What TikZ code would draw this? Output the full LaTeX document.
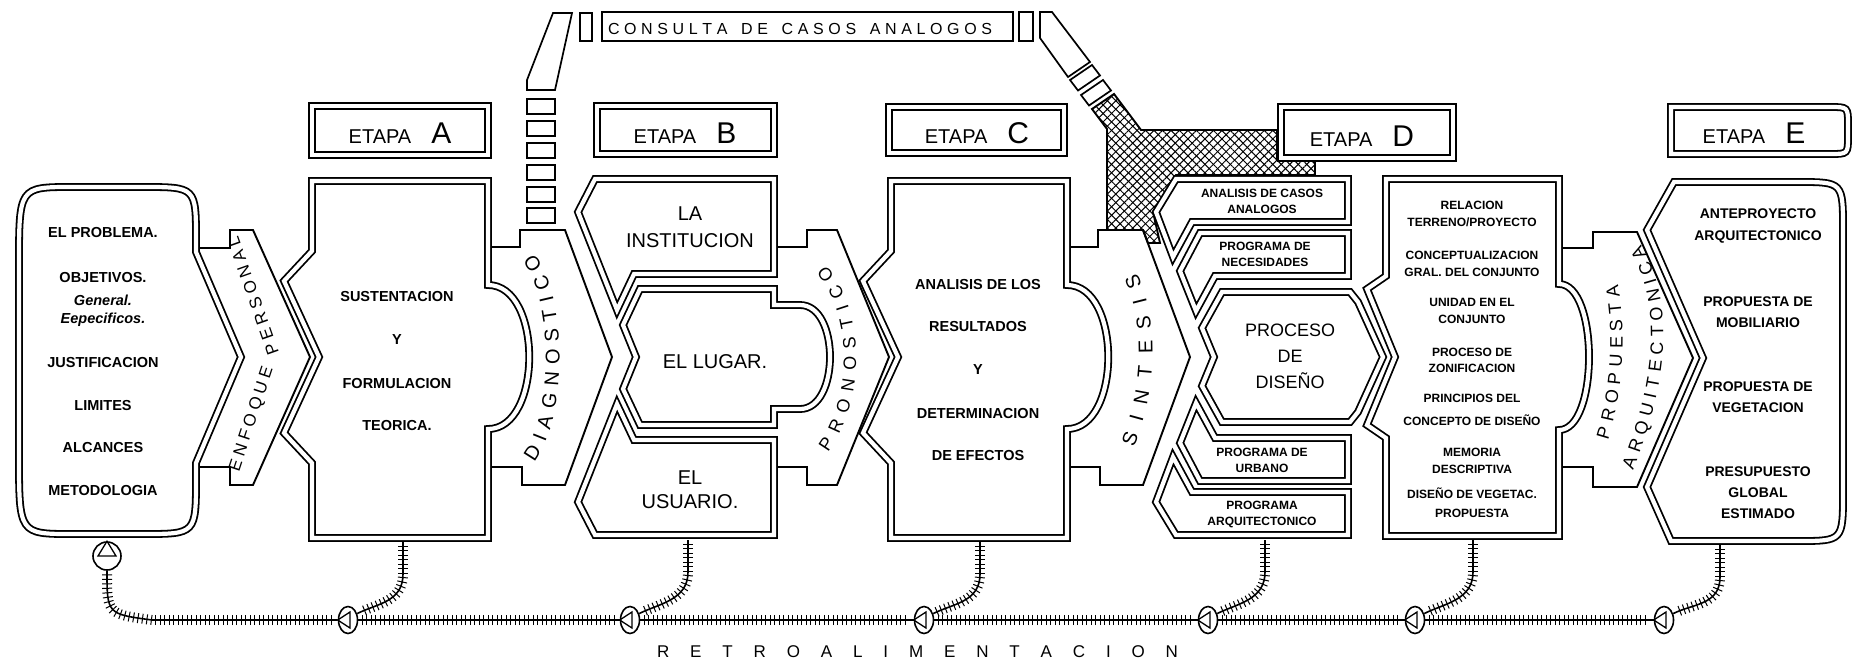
\documentclass[tikz,border=0pt]{standalone}
\usepackage{fontspec}
\setmainfont{Liberation Sans}
\usetikzlibrary{decorations.markings}
\usetikzlibrary{decorations.text}
\usetikzlibrary{patterns.meta}
\usetikzlibrary{shapes.geometric}

\tikzset{
dbl/.style={double, line width=1.8pt, double distance=4.2pt},
band/.style={line width=1.9pt},
sq/.style={line width=1.7pt},
lbl/.style={inner sep=0pt, align=center, font=\fontsize{#1}{#1}\selectfont},
lbl/.default=15,
blbl/.style={lbl=#1, font=\fontsize{#1}{#1}\selectfont\bfseries},
blbl/.default=15,
etapa/.style={inner sep=0pt, anchor=base, font=\fontsize{20}{20}\selectfont},
bandtxt/.style 2 args={decorate, decoration={text along path,
  text={|\fontsize{#1}{#1}\selectfont|#2}, text align={fit to path}}},
rail/.style={line width=1.6pt, postaction={decorate, decoration={markings,
  mark=between positions 4pt and -4pt step 4.5pt with {\draw[line width=1pt] (0pt,-5pt) -- (0pt,5pt);}}}},
fbc/.style={draw, ellipse, line width=1.6pt, minimum width=19pt, minimum height=27pt, inner sep=0pt, fill=white}
}

\begin{document}
\begin{tikzpicture}[x=1pt, y=-1pt]
\useasboundingbox (0,0) rectangle (1862,665);

% consulta de casos analogos
\draw[band, pattern={Lines[angle=45,distance=6pt,line width=1pt]},
  postaction={pattern={Lines[angle=-45,distance=6pt,line width=1pt]}}]
  (1092,109) -- (1114,94) -- (1141,130) -- (1277,130) -- (1277,160) -- (1315,160) -- (1315,175)
  -- (1176,175) -- (1153,212) -- (1160,243) -- (1148,243) -- (1143,230) -- (1107,230) -- (1107,129) -- cycle;
\draw[sq] (553,13) -- (572,13) -- (555,90) -- (527,90) -- (527,80) -- cycle;
\foreach \y in {99,121,143,165,187,208}
  \draw[sq] (527,\y) rectangle (555,\y+15);
\draw[sq] (580,13) rectangle (592,41);
\draw[sq] (602,12) rectangle (1013,41);
\draw[sq] (1019,12) rectangle (1033,41);
\draw[sq] (1040,12) -- (1052,12) -- (1090,62) -- (1068,77) -- (1040,38) -- cycle;
\foreach \x/\y in {1070/80,1081/95}
  \draw[sq] (\x,\y) -- ++(22,-15) -- ++(8,10.5) -- ++(-22,15) -- cycle;
\path[bandtxt={16}{CONSULTA DE CASOS ANALOGOS}] (608,34) -- (992,34);

% etapas
\draw[dbl] (312,106) rectangle (488,155);
\draw[dbl] (597,106) rectangle (774,154);
\draw[dbl] (889,107) rectangle (1064,153);
\draw[dbl] (1281,107) rectangle (1453,158);
\draw[dbl] (1671,107) -- (1830,107) .. controls (1848,107) .. (1848,125) -- (1848,136)
  .. controls (1848,154) .. (1830,154) -- (1671,154) -- cycle;
\node[etapa] (etA) at (400,143) {ETAPA\hspace{20pt}{\fontsize{30}{30}\selectfont A}};
\node[etapa] (etB) at (685,143) {ETAPA\hspace{20pt}{\fontsize{30}{30}\selectfont B}};
\node[etapa] (etC) at (977,143) {ETAPA\hspace{20pt}{\fontsize{30}{30}\selectfont C}};
\node[etapa] (etD) at (1362,146) {ETAPA\hspace{20pt}{\fontsize{30}{30}\selectfont D}};
\node[etapa] (etE) at (1754,143) {ETAPA\hspace{20pt}{\fontsize{30}{30}\selectfont E}};

% problema
\draw[dbl] (196,252) -- (196,240) .. controls (196,187) .. (143,187) -- (72,187)
  .. controls (19,187) .. (19,265) -- (19,455) .. controls (19,534) .. (72,534) -- (143,534)
  .. controls (196,534) .. (196,478) -- (196,463) -- (241,357) -- cycle;
\draw[band] (200,248) -- (230,248) -- (230,230) -- (253,230) -- (310,357) -- (253,485)
  -- (230,485) -- (230,467) -- (200,467);

% etapa A y C
\foreach \dx in {0,579}
  \draw[dbl, xshift=\dx pt] (312,181) -- (488,181) -- (488,285) .. controls (543,285) and (543,429) .. (488,429)
    -- (488,538) -- (312,538) -- (312,463) -- (284,433) -- (319,357) -- (284,281) -- (312,251) -- cycle;
\foreach \dx in {0,578}
  \draw[band, xshift=\dx pt] (492,247) -- (520,247) -- (520,230) -- (565,230) -- (612,357) -- (565,485)
    -- (522,485) -- (522,467) -- (492,467);

% etapa B
\draw[dbl] (595,179) -- (774,179) -- (774,274) -- (634,274) -- (617,310) -- (578,212) -- cycle;
\draw[dbl] (640,289) -- (774,289) -- (774,305) -- (800,305) .. controls (840,305) and (840,409) .. (800,409)
  -- (774,409) -- (774,425) -- (640,425) -- (623,389) -- (636,357) -- (623,325) -- cycle;
\draw[dbl] (595,535) -- (774,535) -- (774,440) -- (634,440) -- (617,404) -- (578,502) -- cycle;
\draw[band] (778,247) -- (807,247) -- (807,230) -- (837,230) -- (889,357) -- (837,485)
  -- (807,485) -- (807,467) -- (778,467);

% etapa D
\draw[dbl] (1176,179) -- (1348,179) -- (1348,222) -- (1192,222) -- (1173,257) -- (1156,212) -- cycle;
\draw[dbl] (1200,233) -- (1348,233) -- (1348,276) -- (1215,276) -- (1196,311) -- (1180,271) -- cycle;
\draw[dbl] (1222,292) -- (1350,292) -- (1358,302) -- (1383,357) -- (1358,412) -- (1350,422)
  -- (1222,422) -- (1202,386) -- (1214,357) -- (1202,328) -- cycle;
\draw[dbl] (1200,481) -- (1348,481) -- (1348,438) -- (1215,438) -- (1196,403) -- (1180,443) -- cycle;
\draw[dbl] (1176,535) -- (1348,535) -- (1348,492) -- (1192,492) -- (1173,457) -- (1156,502) -- cycle;
\draw[dbl] (1386,179) -- (1559,179) -- (1559,284) .. controls (1599,284) and (1599,430) .. (1559,430)
  -- (1559,536) -- (1386,536) -- (1386,438) -- (1367,425) -- (1395,357) -- (1367,289) -- (1386,276) -- cycle;
\draw[band] (1563,248) -- (1593,248) -- (1593,232) -- (1637,232) -- (1693,358) -- (1637,487)
  -- (1593,487) -- (1593,467) -- (1563,467);

% etapa E
\draw[dbl] (1674,182) -- (1798,182) .. controls (1843,182) .. (1843,230) -- (1843,492)
  .. controls (1843,541) .. (1798,541) -- (1671,541) -- (1647,487) -- (1703,358) -- (1647,230) -- cycle;

% textos
\foreach \t/\y [count=\i] in {EL PROBLEMA./233, OBJETIVOS./277, {\itshape General.}/300,
  {\itshape Eepecificos.}/320, JUSTIFICACION/362, LIMITES/405, ALCANCES/447, METODOLOGIA/490}
  \node[blbl=14.5] (prob\i) at (103,\y) {\t};
\foreach \t/\y [count=\i] in {SUSTENTACION/297, Y/340, FORMULACION/383, TEORICA./425}
  \node[blbl=14.5] (sus\i) at (397,\y) {\t};
\foreach \t/\y [count=\i] in {ANALISIS DE LOS/285, RESULTADOS/327, Y/370, DETERMINACION/413, DE EFECTOS/455}
  \node[blbl=14.5] (res\i) at (978,\y) {\t};
\node[lbl=20] (inst) at (690,227) {LA\\[7pt]INSTITUCION};
\node[lbl=20] (lugar) at (715,362) {EL LUGAR.};
\node[lbl=20] (usu) at (690,490) {EL\\[4pt]USUARIO.};
\node[blbl=12] (anal) at (1262,201) {ANALISIS DE CASOS\\[4pt]ANALOGOS};
\node[blbl=12] (nec) at (1265,254) {PROGRAMA DE\\[4pt]NECESIDADES};
\node[lbl=18] (proc) at (1290,356) {PROCESO\\[8pt]DE\\[8pt]DISEÑO};
\node[blbl=12] (urb) at (1262,460) {PROGRAMA DE\\[4pt]URBANO};
\node[blbl=12] (arq) at (1262,514) {PROGRAMA\\[4pt]ARQUITECTONICO};
\foreach \t/\y [count=\i] in {{RELACION\\[5pt]TERRENO/PROYECTO}/214, {CONCEPTUALIZACION\\[5pt]GRAL. DEL CONJUNTO}/264,
  {UNIDAD EN EL\\[5pt]CONJUNTO}/311, {PROCESO DE\\[4pt]ZONIFICACION}/360, {PRINCIPIOS DEL\\[11pt]CONCEPTO DE DISEÑO}/410,
  {MEMORIA\\[5pt]DESCRIPTIVA}/461, {DISEÑO DE VEGETAC.\\[7pt]PROPUESTA}/503}
  \node[blbl=12] (rel\i) at (1472,\y) {\t};
\foreach \t/\y [count=\i] in {{ANTEPROYECTO\\[8pt]ARQUITECTONICO}/226, {PROPUESTA DE\\[7pt]MOBILIARIO}/312,
  {PROPUESTA DE\\[7pt]VEGETACION}/397, {PRESUPUESTO\\[7pt]GLOBAL\\[7pt]ESTIMADO}/493}
  \node[blbl=14] (ant\i) at (1758,\y) {\t};

% textos de las flechas
\path[bandtxt={17}{ENFOQUE}] (239,472) -- (273,369);
\path[bandtxt={17}{PERSONAL}] (279,352) -- (238,236);
\path[bandtxt={20}{DIAGNOSTICO}] (534,462) .. controls (568,420) and (568,295) .. (534,254);
\path[bandtxt={18}{PRONOSTICO}] (828,452) .. controls (866,400) and (866,312) .. (826,265);
\path[bandtxt={20}{SINTESIS}] (1134,447) .. controls (1157,390) and (1159,320) .. (1137,273);
\path[bandtxt={18}{PROPUESTA}] (1608,440) .. controls (1624,390) and (1626,330) .. (1618,285);
\path[bandtxt={18}{ARQUITECTONICA}] (1633,470) .. controls (1671,375) and (1673,300) .. (1641,245);

% retroalimentacion
\node[draw, circle, line width=1.6pt, minimum size=28pt, inner sep=0pt, fill=white] (f0) at (107,556) {};
\foreach \i/\x in {1/348,2/630,3/924,4/1208,5/1415,6/1664}
  \node[fbc] (f\i) at (\x,620) {};
\foreach \i/\x/\y in {1/403/542, 2/688/540, 3/980/542, 4/1265/540, 5/1473/540, 6/1720/545}
  \coordinate (b\i) at (\x,\y);
\draw[rail] (f0.south) .. controls (107,614) .. (152,620) -- (f1.west);
\foreach \a/\b in {1/2,2/3,3/4,4/5,5/6}
  \draw[rail] (f\a.east) -- (f\b.west);
\foreach \i in {1,...,6}
  \draw[rail] (b\i) -- ++(0,32) .. controls +(0,28) and +(20,-10) .. (f\i.35);
\draw[line width=1.3pt] (f0.north) -- ([xshift=-9pt]f0.center) -- ([xshift=9pt]f0.center) -- cycle;
\foreach \i in {1,...,6}
  \draw[line width=1.3pt] (f\i.west) -- ([shift={(2pt,-8pt)}]f\i.center) -- ([shift={(2pt,8pt)}]f\i.center) -- cycle;
\path[bandtxt={17}{RETROALIMENTACION}] (657,657) -- (1178,657);
\end{tikzpicture}
\end{document}
